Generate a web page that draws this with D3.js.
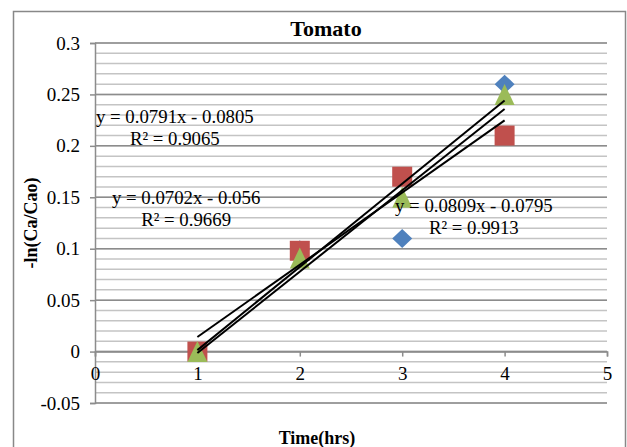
<!DOCTYPE html>
<html>
<head>
<meta charset="utf-8">
<script src="https://cdn.jsdelivr.net/npm/d3@7"></script>
<style>
  body { margin: 0; background: #fff; }
</style>
</head>
<body>
<svg id="chart" width="627" height="447"></svg>
<script>
// ---- data ----
const xValues = [1, 2, 3, 4];
const s1Values = [0, 0.099, 0.11, 0.26];
const s2Values = [0, 0.098, 0.17, 0.21];
const s3Values = [0, 0.091, 0.15, 0.25];
const slopes = [0.0791, 0.0702, 0.0809];
const intercepts = [-0.0805, -0.056, -0.0795];
const eqLabels = ["y = 0.0791x - 0.0805", "y = 0.0702x - 0.056", "y = 0.0809x - 0.0795"];
const r2Labels = ["R² = 0.9065", "R² = 0.9669", "R² = 0.9913"];
const xTicks = [0, 1, 2, 3, 4, 5];
const yTicks = [-0.05, 0, 0.05, 0.1, 0.15, 0.2, 0.25, 0.3];
const yTickLabels = ["-0.05", "0", "0.05", "0.1", "0.15", "0.2", "0.25", "0.3"];
const colors = ["#4F81BD", "#C0504D", "#9BBB59"];
const markers = ["diamond", "square", "triangle"];
const title = "Tomato";
const xTitle = "Time(hrs)";
const yTitle = "-ln(Ca/Cao)";

const FONT = '"Liberation Serif", "Times New Roman", Times, serif';
const svg = d3.select("#chart");
const x = d3.scaleLinear().domain([0, 5]).range([95, 607]);
const y = d3.scaleLinear().domain([-0.05, 0.3]).range([403, 43]);

// outer border
svg.append("rect").attr("x", 13.5).attr("y", 11.5).attr("width", 612).attr("height", 450)
  .attr("fill", "#fff").attr("stroke", "#888").attr("stroke-width", 1.5);

// minor gridlines
const minor = d3.range(-5, 31).map(i => i / 100);
svg.append("g").selectAll("line").data(minor).join("line")
  .attr("x1", x(0)).attr("x2", x(5))
  .attr("y1", d => y(d)).attr("y2", d => y(d))
  .attr("stroke", "#c4c4c4").attr("stroke-width", 1.5);
// major gridlines
svg.append("g").selectAll("line").data(yTicks).join("line")
  .attr("x1", x(0)).attr("x2", x(5))
  .attr("y1", d => y(d)).attr("y2", d => y(d))
  .attr("stroke", "#8c8c8c").attr("stroke-width", 1.5);

// y axis
const yAxis = d3.axisLeft(y).tickValues(yTicks).tickSize(5).tickPadding(10)
  .tickFormat((d, i) => yTickLabels[i]);
const gy = svg.append("g").attr("transform", `translate(${x(0)},0)`).call(yAxis)
  .attr("font-size", 19);
gy.select(".domain").attr("stroke", "#8c8c8c").attr("stroke-width", 1.5);
gy.selectAll(".tick line").attr("stroke", "#8c8c8c").attr("stroke-width", 1.5);
gy.selectAll(".tick text").attr("fill", "#000").style("font-family", FONT);

// x axis at y=0
const xAxis = d3.axisBottom(x).tickValues(xTicks).tickSize(5).tickPadding(10).tickFormat(d3.format("d"));
const gx = svg.append("g").attr("transform", `translate(0,${y(0)})`).call(xAxis)
  .attr("font-size", 19);
gx.select(".domain").attr("stroke", "#8c8c8c").attr("stroke-width", 1.5);
gx.selectAll(".tick line").attr("stroke", "#8c8c8c").attr("stroke-width", 1.5);
gx.selectAll(".tick text").attr("fill", "#000").style("font-family", FONT);

// markers
function markerPath(type) {
  if (type === "diamond") return "M0,-9.5L10,0L0,9.5L-10,0Z";
  if (type === "square") return "M-10,-10L10,-10L10,10L-10,10Z";
  return "M0,-10.5L10,10.5L-10,10.5Z";
}
const allSeries = [s1Values, s2Values, s3Values];
allSeries.forEach((vals, si) => {
  svg.append("g").selectAll("path").data(vals).join("path")
    .attr("d", markerPath(markers[si]))
    .attr("transform", (d, i) => `translate(${x(xValues[i])},${y(d)})`)
    .attr("fill", colors[si]);
});

// trendlines
slopes.forEach((m, si) => {
  const x0 = d3.min(xValues), x1 = d3.max(xValues);
  svg.append("line")
    .attr("x1", x(x0)).attr("y1", y(m * x0 + intercepts[si]))
    .attr("x2", x(x1)).attr("y2", y(m * x1 + intercepts[si]))
    .attr("stroke", "#000").attr("stroke-width", 2);
});

// equation labels (positioned in data coordinates)
const eqPos = [[0.78, 0.222], [0.89, 0.1435], [3.7, 0.1355]];
eqPos.forEach((p, si) => {
  const t = svg.append("text").attr("text-anchor", "middle")
    .style("font-family", FONT).attr("font-size", 18.8).attr("fill", "#000")
    .attr("x", x(p[0])).attr("y", y(p[1]));
  t.append("tspan").attr("x", x(p[0])).text(eqLabels[si]);
  t.append("tspan").attr("x", x(p[0])).attr("dy", 22).text(r2Labels[si]);
});

// titles
svg.append("text").attr("x", 326).attr("y", 36).attr("text-anchor", "middle")
  .style("font-family", FONT).attr("font-weight", "bold").attr("font-size", 22).text(title);
svg.append("text").attr("x", 317).attr("y", 444).attr("text-anchor", "middle")
  .style("font-family", FONT).attr("font-weight", "bold").attr("font-size", 18).text(xTitle);
svg.append("text").attr("transform", "translate(37,223) rotate(-90)").attr("text-anchor", "middle")
  .style("font-family", FONT).attr("font-weight", "bold").attr("font-size", 18).text(yTitle);
</script>
</body>
</html>
